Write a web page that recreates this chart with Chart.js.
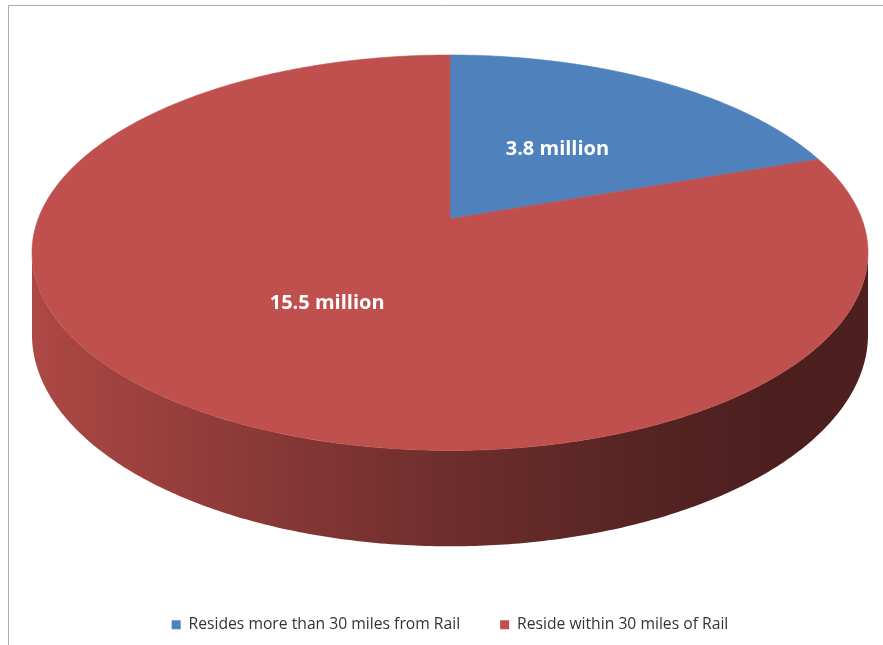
<!DOCTYPE html>
<html>
<head>
<meta charset="utf-8">
<script src="https://cdn.jsdelivr.net/npm/chart.js@4.4.1/dist/chart.umd.min.js"></script>
<style>
  html, body { margin: 0; padding: 0; background: #ffffff; }
  #wrap { width: 883px; height: 645px; position: relative; }
</style>
</head>
<body>
<div id="wrap"><canvas id="c" width="883" height="645"></canvas></div>
<script>
// Population by distance to a rail line (millions)
const categories = ['Resides more than 30 miles from Rail', 'Reside within 30 miles of Rail'];
const populationMillions = [3.8, 15.5];
const valueLabels = ['3.8 million', '15.5 million'];
const sliceColors = ['#4F81BD', '#C0504D'];

// 3-D look of the pie
const TILT = 0.1717;       // front/back perspective foreshortening
const DEPTH = 0.4137;      // wall height relative to the vertical radius
const BOTTOM_GAP = 30.5;   // space between the pie wall and the legend
const LABEL_RADIUS = 0.48; // where value labels sit on the top face

function pieGeometry(chart) {
  const a = chart.chartArea;
  const w = a.right - a.left;
  const h = (a.bottom - BOTTOM_GAP) - a.top;
  const A = (w / 2) * Math.sqrt(1 - TILT * TILT);
  const B = h / (1 / (1 + TILT) + (1 + DEPTH) / (1 - TILT));
  return { cx: (a.left + a.right) / 2, cy: a.top + B / (1 + TILT), A, B, H: B * DEPTH };
}

// theta: clockwise from 12 o'clock; r: 0..1 of radius; lift: downward offset
function project(g, theta, r, lift) {
  const u = r * Math.sin(theta), v = r * Math.cos(theta);
  const s = 1 / (1 + TILT * v);
  return [g.cx + g.A * u * s, g.cy - g.B * v * s + lift * s];
}

function hexToRgb(hex) {
  const n = parseInt(hex.slice(1), 16);
  return [(n >> 16) & 255, (n >> 8) & 255, n & 255];
}
function shade(hex, f) {
  const [r, g, b] = hexToRgb(hex);
  return `rgb(${Math.round(r * f)},${Math.round(g * f)},${Math.round(b * f)})`;
}

function arcPath(ctx, g, t0, t1, lift, reverse) {
  const steps = Math.max(2, Math.ceil((t1 - t0) / 0.01));
  for (let i = 0; i <= steps; i++) {
    const k = reverse ? steps - i : i;
    const t = t0 + (t1 - t0) * k / steps;
    const [x, y] = project(g, t, 1, lift);
    ctx.lineTo(x, y);
  }
}

const pie3d = {
  id: 'pie3d',
  beforeDraw(chart) {
    const ctx = chart.ctx;
    ctx.save();
    ctx.fillStyle = '#ffffff';
    ctx.fillRect(0, 0, chart.width, chart.height);
    ctx.strokeStyle = '#ABABAB';
    ctx.lineWidth = 1;
    ctx.beginPath();
    ctx.moveTo(8.5, chart.height);
    ctx.lineTo(8.5, 5.5);
    ctx.lineTo(chart.width, 5.5);
    ctx.stroke();
    ctx.restore();
  },
  beforeDatasetsDraw(chart) {
    const ctx = chart.ctx;
    const g = pieGeometry(chart);
    const arcs = chart.getDatasetMeta(0).data;
    const visFrom = Math.acos(-TILT), visTo = 2 * Math.PI - Math.acos(-TILT);
    const gx0 = g.cx - g.A / Math.sqrt(1 - TILT * TILT);
    const gx1 = g.cx + g.A / Math.sqrt(1 - TILT * TILT);

    ctx.save();
    // walls (front part only)
    arcs.forEach((arc, i) => {
      const t0 = Math.max(arc.startAngle + Math.PI / 2, visFrom);
      const t1 = Math.min(arc.endAngle + Math.PI / 2, visTo);
      if (t1 <= t0) return;
      const col = sliceColors[i];
      const grad = ctx.createLinearGradient(gx0, 0, gx1, 0);
      grad.addColorStop(0.0, shade(col, 0.90));
      grad.addColorStop(0.25, shade(col, 0.73));
      grad.addColorStop(0.5, shade(col, 0.57));
      grad.addColorStop(0.75, shade(col, 0.44));
      grad.addColorStop(0.9, shade(col, 0.39));
      grad.addColorStop(1.0, shade(col, 0.40));
      ctx.beginPath();
      arcPath(ctx, g, t0, t1, 0, false);
      arcPath(ctx, g, t0, t1, g.H, true);
      ctx.closePath();
      ctx.fillStyle = grad;
      ctx.fill();
    });
    // top faces
    arcs.forEach((arc, i) => {
      const t0 = arc.startAngle + Math.PI / 2;
      const t1 = arc.endAngle + Math.PI / 2;
      ctx.beginPath();
      const [x0, y0] = project(g, 0, 0, 0);
      ctx.moveTo(x0, y0);
      arcPath(ctx, g, t0, t1, 0, false);
      ctx.closePath();
      ctx.fillStyle = sliceColors[i];
      ctx.strokeStyle = sliceColors[i];
      ctx.lineWidth = 0.6;
      ctx.fill();
      ctx.stroke();
    });
    // value labels
    ctx.fillStyle = '#ffffff';
    ctx.font = 'bold 20px "Open Sans"';
    ctx.textAlign = 'center';
    ctx.textBaseline = 'middle';
    arcs.forEach((arc, i) => {
      const mid = (arc.startAngle + arc.endAngle) / 2 + Math.PI / 2;
      const [x, y] = project(g, mid, LABEL_RADIUS, 0);
      ctx.fillText(valueLabels[i], x, y + (i === 1 ? 4 : 1));
    });
    ctx.restore();
    return false;
  }
};

new Chart(document.getElementById('c'), {
  type: 'pie',
  data: {
    labels: categories,
    datasets: [{ data: populationMillions, backgroundColor: sliceColors, borderWidth: 0 }]
  },
  options: {
    responsive: false,
    animation: false,
    events: [],
    layout: { padding: { left: 32, right: 15, top: 55, bottom: 2.5 } },
    plugins: {
      tooltip: { enabled: false },
      legend: {
        position: 'bottom',
        labels: {
          boxWidth: 9,
          boxHeight: 9,
          padding: 40,
          color: '#333333',
          font: { family: 'Open Sans', size: 15.7 }
        }
      }
    }
  },
  plugins: [pie3d]
});
</script>
</body>
</html>
